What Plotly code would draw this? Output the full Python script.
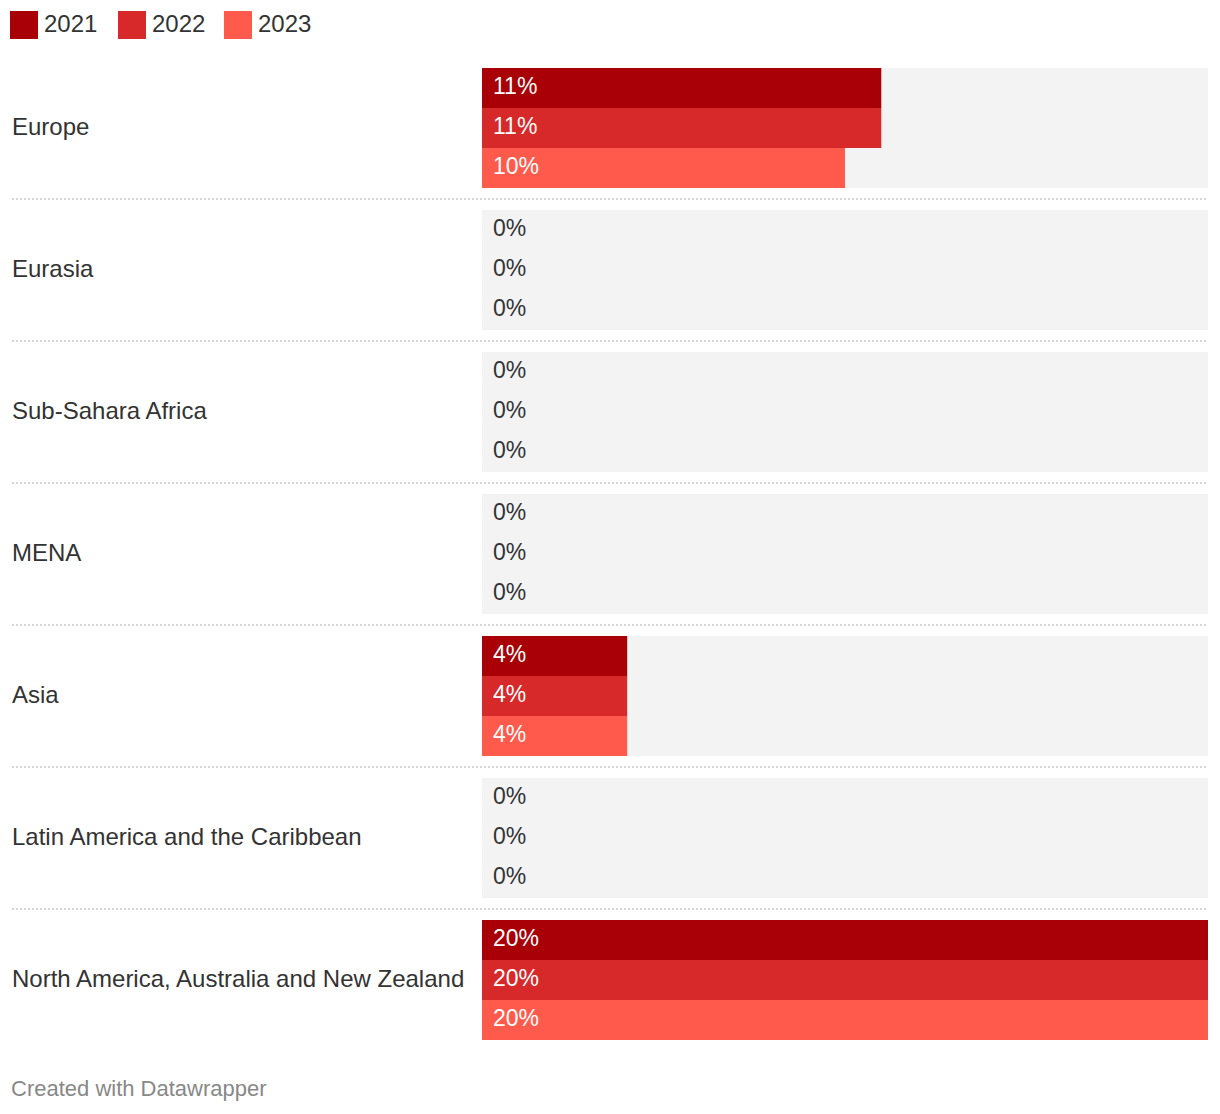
import plotly.graph_objects as go

regions = ["Europe", "Eurasia", "Sub-Sahara Africa", "MENA", "Asia",
           "Latin America and the Caribbean", "North America, Australia and New Zealand"]
series = ["2021", "2022", "2023"]
values = {
    "2021": [11, 0, 0, 0, 4, 0, 20],
    "2022": [11, 0, 0, 0, 4, 0, 20],
    "2023": [10, 0, 0, 0, 4, 0, 20],
}
colors = {"2021": "#a80006", "2022": "#d7282a", "2023": "#ff5a4b"}
x_max = 20

# page body has an 8px margin: work in screen pixels and shift
OFF = 8
W, H = 1220 - OFF, 1114 - OFF
FONT = "Liberation Sans, Arial, Helvetica, sans-serif"
TXT = "#333333"


def px(v):
    return (v - OFF) / W


def py(v):
    return v - OFF


top = 68
bar_h = 40
group_h = bar_h * len(series)
gap = 22
stride = group_h + gap

fig = go.Figure()
shapes = []
annotations = []

for i, reg in enumerate(regions):
    g0 = top + i * stride
    shapes.append(dict(type="rect", xref="x", yref="y", x0=0, x1=x_max,
                       y0=py(g0), y1=py(g0 + group_h), fillcolor="#f3f3f3",
                       line=dict(width=0), layer="below"))
    annotations.append(dict(x=px(10), xref="paper", y=py(g0 + group_h / 2), yref="y",
                            yshift=2, text=reg, showarrow=False, xanchor="left",
                            yanchor="middle",
                            font=dict(family=FONT, size=24, color=TXT)))
    if i > 0:
        sy = g0 - gap / 2
        shapes.append(dict(type="line", xref="paper", yref="y", x0=px(12), x1=px(1208),
                           y0=py(sy), y1=py(sy),
                           line=dict(color="#d6d6d6", width=2, dash="2px,2px")))

for j, s in enumerate(series):
    ys = [py(top + i * stride + j * bar_h + bar_h / 2) for i in range(len(regions))]
    fig.add_trace(go.Bar(x=values[s], y=ys, orientation="h", width=bar_h,
                         marker=dict(color=colors[s], line=dict(width=0)),
                         name=s, hoverinfo="skip", showlegend=False))
    for v, yc in zip(values[s], ys):
        annotations.append(dict(x=0, xref="x", y=yc, yref="y", xshift=9, yshift=2,
                                text=f"{v:g}%", showarrow=False, xanchor="left",
                                yanchor="middle",
                                font=dict(family=FONT, size=23,
                                          color="#ffffff" if v > 0 else TXT)))

# custom legend
leg_x = [10, 118, 224]
for s, lx in zip(series, leg_x):
    shapes.append(dict(type="rect", xref="paper", yref="y", x0=px(lx), x1=px(lx + 28),
                       y0=py(11), y1=py(39), fillcolor=colors[s], line=dict(width=0)))
    annotations.append(dict(x=px(lx + 32), xref="paper", y=py(25), yref="y", yshift=2,
                            text=s, showarrow=False, xanchor="left", yanchor="middle",
                            font=dict(family=FONT, size=24, color=TXT)))

annotations.append(dict(x=px(9), xref="paper", y=py(1089), yref="y", yshift=1,
                        text="Created with Datawrapper", showarrow=False,
                        xanchor="left", yanchor="middle",
                        font=dict(family=FONT, size=22, color="#888888")))

fig.update_layout(
    width=W, height=H,
    margin=dict(l=0, r=0, t=0, b=0),
    paper_bgcolor="white", plot_bgcolor="rgba(0,0,0,0)",
    barmode="overlay",
    xaxis=dict(domain=[px(482), px(1208)], range=[0, x_max], visible=False, fixedrange=True),
    yaxis=dict(domain=[0, 1], range=[H, 0], visible=False, fixedrange=True),
    shapes=shapes, annotations=annotations,
    showlegend=False,
)

fig.write_html("out.html", config={"displayModeBar": False})
